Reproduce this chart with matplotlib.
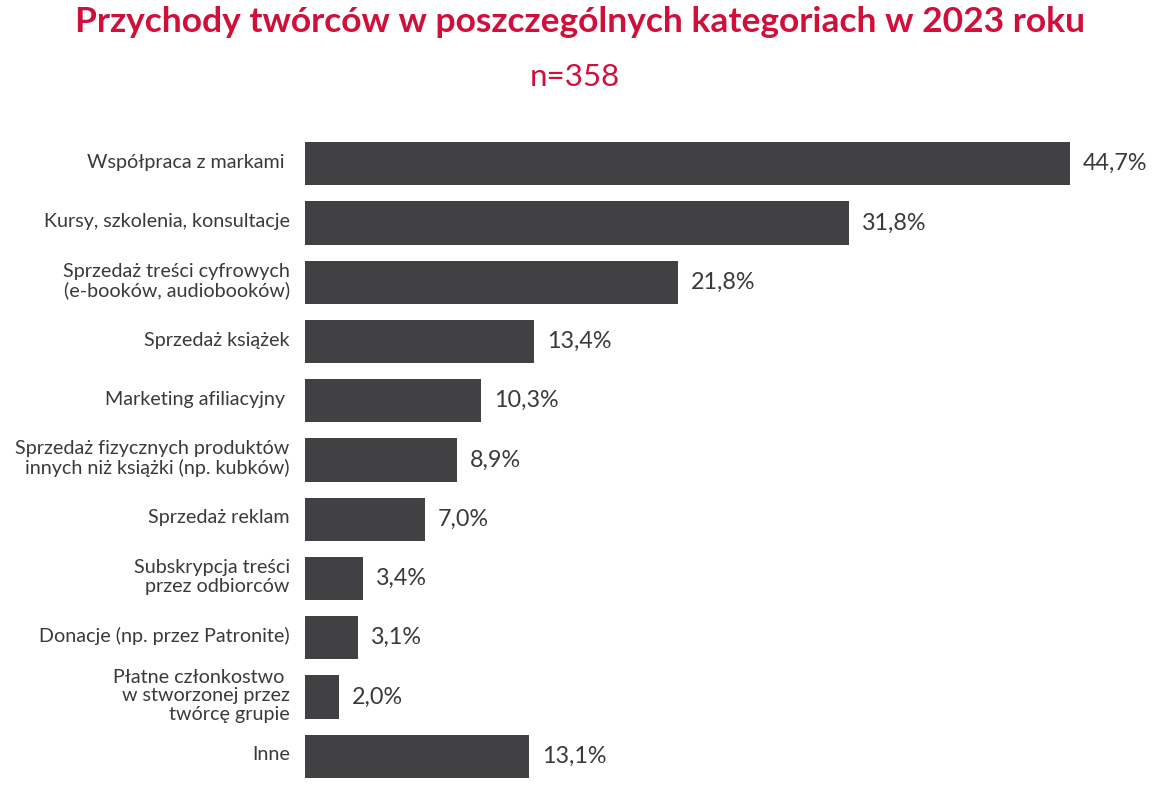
import matplotlib
matplotlib.use("Agg")
import matplotlib.pyplot as plt
import numpy as np

# dane z wykresu
kategorie = [
    "Współpraca z markami ",
    "Kursy, szkolenia, konsultacje",
    "Sprzedaż treści cyfrowych\n(e-booków, audiobooków)",
    "Sprzedaż książek",
    "Marketing afiliacyjny ",
    "Sprzedaż fizycznych produktów\ninnych niż książki (np. kubków)",
    "Sprzedaż reklam",
    "Subskrypcja treści\nprzez odbiorców",
    "Donacje (np. przez Patronite)",
    "Płatne członkostwo \nw stworzonej przez\ntwórcę grupie",
    "Inne",
]
wartosci = [44.7, 31.8, 21.8, 13.4, 10.3, 8.9, 7.0, 3.4, 3.1, 2.0, 13.1]
etykiety = [f"{v:.1f}%".replace(".", ",") for v in wartosci]

tytul = "Przychody twórców w poszczególnych kategoriach w 2023 roku"
podtytul = "n=358"

CZERWONY = "#D0103A"
SZARY = "#414042"
TEKST = "#3a3a3c"

plt.rcParams['font.family'] = ['Lato', 'DejaVu Sans']

fig = plt.figure(figsize=(11.6, 7.86), dpi=100)
ax = fig.add_axes([305 / 1160, 0.0, (1150 - 305) / 1160, 1 - 134 / 786])

y = np.arange(len(kategorie))
ax.barh(y, wartosci, height=0.73, color=SZARY)
ax.set_xlim(0, (1150 - 305) / 17.11)
ax.set_ylim(len(kategorie) - 0.5, -0.5)

for yi, v, lab in zip(y, wartosci, etykiety):
    ax.annotate(lab, (v, yi), xytext=(9, 0), textcoords="offset points",
                ha="left", va="center", fontsize=16.8, color=TEKST)

for yi, k in zip(y, kategorie):
    ax.annotate(k, (0, yi), xytext=(-11, 1), textcoords="offset points",
                ha="right", va="center", fontsize=14.2, color=TEKST,
                linespacing=1.1, annotation_clip=False)

ax.set_xticks([])
ax.set_yticks([])
for s in ax.spines.values():
    s.set_visible(False)

fig.text(0.5, 1 - 22 / 786, tytul, ha="center", va="center",
         fontsize=25.5, fontweight="bold", color=CZERWONY)
fig.text(0.496, 1 - 77 / 786, podtytul, ha="center", va="center",
         fontsize=22.5, color=CZERWONY)

fig.savefig("out.png", dpi=100)
